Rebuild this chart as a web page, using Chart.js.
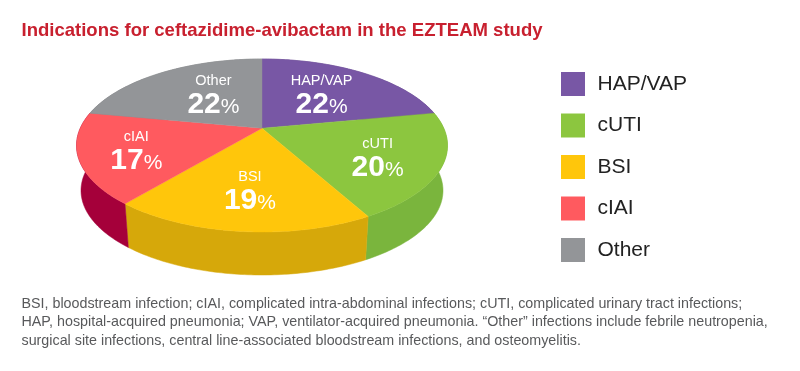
<!DOCTYPE html>
<html>
<head>
<meta charset="utf-8">
<style>html,body{margin:0;padding:0;background:#fff}#wrap{width:800px;height:371px}</style>
<script src="https://cdn.jsdelivr.net/npm/chart.js@4/dist/chart.umd.min.js"></script>
</head>
<body>
<div id="wrap"><canvas id="c" width="800" height="371"></canvas></div>
<script>
const categories = ['HAP/VAP', 'cUTI', 'BSI', 'cIAI', 'Other'];
const percentages = [22, 20, 19, 17, 22];
const topColors = ['#7857a5', '#8cc63f', '#ffc60b', '#ff5a5f', '#939598'];
const sideColors = ['#654a8c', '#7ab53d', '#d6a80a', '#a5003a', '#7c7e80'];
const titleText = 'Indications for ceftazidime-avibactam in the EZTEAM study';
const footnoteLines = [
  'BSI, bloodstream infection; cIAI, complicated intra-abdominal infections; cUTI, complicated urinary tract infections;',
  'HAP, hospital-acquired pneumonia; VAP, ventilator-acquired pneumonia. \u201COther\u201D infections include febrile neutropenia,',
  'surgical site infections, central line-associated bloodstream infections, and osteomyelitis.'
];

const FONT = '"Liberation Sans", Arial, sans-serif';
const VIEW = { cx: 262, cy: 145.5, rx: 185.5, ry: 86.5, tilt: 0.2, lowCx: 262, lowCy: 190.5, lowRx: 181, lowRy: 84.5 };
const labelNudge = [[-6, 3], [8, 7], [0, 4], [-15, 5], [17, 3]];

// Perspective projection of a point on the flat disc (rho 0..1, phi clockwise from the top)
function project(rho, phi) {
  const x = rho * Math.sin(phi), y = rho * Math.cos(phi), e = VIEW.tilt;
  const w = 1 + e * y;
  return { x: x * Math.sqrt(1 - e * e) / w, y: (y + e) / w };
}
const topPt = p => [VIEW.cx + VIEW.rx * p.x, VIEW.cy - VIEW.ry * p.y];
const lowPt = p => [VIEW.lowCx + VIEW.lowRx * p.x, VIEW.lowCy - VIEW.lowRy * p.y];
const STEPS = 80;

const pie3d = {
  id: 'pie3d',
  afterLayout(chart) {
    const l = chart.legend;
    const w = l.width, h = l.height;
    l.left = 545.5; l.right = 545.5 + w; l.top = 56.5; l.bottom = 56.5 + h;
  },
  beforeDatasetDraw(chart, args) {
    const ctx = chart.ctx;
    const arcs = args.meta.data;
    const span = a => {
      const s = a.startAngle + Math.PI / 2, e = a.endAngle + Math.PI / 2, pts = [];
      for (let k = 0; k <= STEPS; k++) pts.push(project(1, s + (e - s) * k / STEPS));
      return pts;
    };
    ctx.save();
    arcs.forEach((a, i) => {
      const pts = span(a);
      ctx.beginPath();
      pts.forEach((p, k) => { const q = topPt(p); k ? ctx.lineTo(q[0], q[1]) : ctx.moveTo(q[0], q[1]); });
      pts.slice().reverse().forEach(p => { const q = lowPt(p); ctx.lineTo(q[0], q[1]); });
      ctx.closePath();
      ctx.fillStyle = sideColors[i];
      ctx.strokeStyle = sideColors[i];
      ctx.lineWidth = 0.5;
      ctx.fill(); ctx.stroke();
    });
    arcs.forEach((a, i) => {
      const pts = span(a), apex = topPt(project(0, 0));
      ctx.beginPath();
      ctx.moveTo(apex[0], apex[1]);
      pts.forEach(p => { const q = topPt(p); ctx.lineTo(q[0], q[1]); });
      ctx.closePath();
      ctx.fillStyle = topColors[i];
      ctx.strokeStyle = topColors[i];
      ctx.lineWidth = 0.4;
      ctx.fill(); ctx.stroke();
    });
    ctx.fillStyle = '#fff';
    ctx.textBaseline = 'alphabetic';
    arcs.forEach((a, i) => {
      const mid = (a.startAngle + a.endAngle) / 2 + Math.PI / 2;
      const q = topPt(project(0.62, mid));
      const x = q[0] + labelNudge[i][0], y = q[1] + labelNudge[i][1];
      ctx.textAlign = 'center';
      ctx.font = '14.5px ' + FONT;
      ctx.fillText(categories[i], x, y - 10);
      const num = String(percentages[i]);
      ctx.font = 'bold 30px ' + FONT;
      const nw = ctx.measureText(num).width;
      ctx.font = '21px ' + FONT;
      const pw = ctx.measureText('%').width;
      const left = x - (nw + pw) / 2;
      ctx.textAlign = 'left';
      ctx.font = 'bold 30px ' + FONT;
      ctx.fillText(num, left, y + 18);
      ctx.font = '21px ' + FONT;
      ctx.fillText('%', left + nw, y + 18);
    });
    ctx.restore();
    return false;
  }
};

new Chart(document.getElementById('c'), {
  type: 'pie',
  data: {
    labels: categories,
    datasets: [{ data: percentages, backgroundColor: topColors, borderWidth: 0 }]
  },
  options: {
    responsive: false,
    animation: false,
    layout: { padding: { left: 21.5, right: 0, top: 0, bottom: 0 } },
    plugins: {
      tooltip: { enabled: false },
      title: {
        display: true, text: titleText, align: 'start', color: '#c8202f',
        font: { family: FONT, size: 18.55, weight: 'bold' },
        padding: { top: 20, bottom: 8 }
      },
      subtitle: {
        display: true, text: footnoteLines, align: 'start', position: 'bottom', color: '#58595b',
        font: { family: FONT, size: 14.3, weight: 'normal', lineHeight: 1.29 },
        padding: { top: 4, bottom: 21 }
      },
      legend: {
        display: true, position: 'chartArea', align: 'start',
        labels: {
          boxWidth: 28, boxHeight: 28, padding: 13.5, color: '#222',
          font: { family: FONT, size: 21 },
          generateLabels(chart) {
            return categories.map((t, i) => ({
              text: t, fillStyle: topColors[i], strokeStyle: '#fff', lineWidth: 4,
              hidden: false, index: i, fontColor: '#222'
            }));
          }
        }
      }
    }
  },
  plugins: [pie3d]
});
</script>
</body>
</html>
